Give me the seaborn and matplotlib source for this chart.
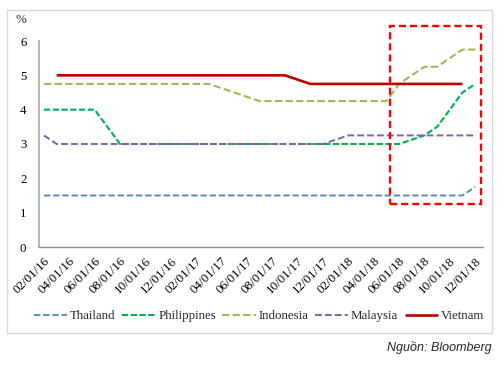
import numpy as np
import pandas as pd
import matplotlib
matplotlib.use("Agg")
import matplotlib.pyplot as plt
from matplotlib.patches import Rectangle
from matplotlib.transforms import ScaledTranslation
import seaborn as sns

# ---------------- data ----------------
tick_labels = ["02/01/16", "04/01/16", "06/01/16", "08/01/16", "10/01/16", "12/01/16",
               "02/01/17", "04/01/17", "06/01/17", "08/01/17", "10/01/17", "12/01/17",
               "02/01/18", "04/01/18", "06/01/18", "08/01/18", "10/01/18", "12/01/18"]
# monthly points from Feb 2016 (index 0) to Dec 2018 (index 34)
months = list(range(35))

thailand = [1.5, 1.5, 1.5, 1.5, 1.5, 1.5, 1.5, 1.5, 1.5, 1.5,
            1.5, 1.5, 1.5, 1.5, 1.5, 1.5, 1.5, 1.5, 1.5, 1.5,
            1.5, 1.5, 1.5, 1.5, 1.5, 1.5, 1.5, 1.5, 1.5, 1.5,
            1.5, 1.5, 1.5, 1.5, 1.75]
philippines = [4.0, 4.0, 4.0, 4.0, 4.0, 3.5, 3.0, 3.0, 3.0, 3.0,
               3.0, 3.0, 3.0, 3.0, 3.0, 3.0, 3.0, 3.0, 3.0, 3.0,
               3.0, 3.0, 3.0, 3.0, 3.0, 3.0, 3.0, 3.0, 3.0, 3.125,
               3.25, 3.5, 4.0, 4.5, 4.75]
indonesia = [4.75, 4.75, 4.75, 4.75, 4.75, 4.75, 4.75, 4.75, 4.75, 4.75,
             4.75, 4.75, 4.75, 4.75, 4.625, 4.5, 4.375, 4.25, 4.25, 4.25,
             4.25, 4.25, 4.25, 4.25, 4.25, 4.25, 4.25, 4.25, 4.75, 5.0,
             5.25, 5.25, 5.5, 5.75, 5.75]
malaysia = [3.25, 3.0, 3.0, 3.0, 3.0, 3.0, 3.0, 3.0, 3.0, 3.0,
            3.0, 3.0, 3.0, 3.0, 3.0, 3.0, 3.0, 3.0, 3.0, 3.0,
            3.0, 3.0, 3.0, 3.125, 3.25, 3.25, 3.25, 3.25, 3.25, 3.25,
            3.25, 3.25, 3.25, 3.25, 3.25]
vietnam = [np.nan, 5.0, 5.0, 5.0, 5.0, 5.0, 5.0, 5.0, 5.0, 5.0,
           5.0, 5.0, 5.0, 5.0, 5.0, 5.0, 5.0, 5.0, 5.0, 5.0,
           4.875, 4.75, 4.75, 4.75, 4.75, 4.75, 4.75, 4.75, 4.75, 4.75,
           4.75, 4.75, 4.75, 4.75, np.nan]

series_names = ["Thailand", "Philippines", "Indonesia", "Malaysia", "Vietnam"]
series_values = [thailand, philippines, indonesia, malaysia, vietnam]

# ---------------- styles ----------------
colors = {"Thailand": "#4f81bd", "Philippines": "#00b050", "Indonesia": "#9bbb59",
          "Malaysia": "#8064a2", "Vietnam": "#c00000"}
widths = {"Thailand": 1.3, "Philippines": 1.5, "Indonesia": 1.5, "Malaysia": 1.4, "Vietnam": 1.9}
dash_patterns = {"Thailand": (3.5, 1.6), "Philippines": (3.0, 1.2), "Indonesia": (3.5, 1.6),
                 "Malaysia": (3.5, 1.6), "Vietnam": None}

sns.set_theme(style="white")
serif = ["Liberation Serif", "DejaVu Serif"]
plt.rcParams["font.family"] = serif

fig = plt.figure(figsize=(5.03, 3.67), dpi=100)
W, H = 503, 367
ax = fig.add_axes([39 / W, 1 - 247 / H, (483 - 39) / W, (247 - 41) / H])

frames = []
for name, vals in zip(series_names, series_values):
    frames.append(pd.DataFrame({"month": months, "rate": vals, "country": name}))
df = pd.concat(frames, ignore_index=True)

for name in series_names:
    sub = df[df["country"] == name].dropna()
    sns.lineplot(data=sub, x="month", y="rate", ax=ax, color=colors[name],
                 lw=widths[name], label=name, legend=False)
    line = ax.lines[-1]
    if dash_patterns[name] is not None:
        line.set_dashes(dash_patterns[name])
    line.set_solid_capstyle("butt")

ax.set_xlim(-0.39, 34.62)
ax.set_ylim(0, 6)
ax.set_xticks(months[::2])
ax.set_xticklabels(tick_labels, rotation=45, ha="right", va="center",
                   rotation_mode="anchor", fontsize=9.3, color="#000000")
ax.tick_params(axis="x", length=0, pad=9)
ax.set_yticks(range(7))
ax.set_yticklabels([str(v) for v in range(7)], fontsize=9.3, color="#000000")
ax.tick_params(axis="y", length=0, pad=9)
ax.set_xlabel("")
ax.set_ylabel("")
ax.grid(False)
for s in ["top", "right"]:
    ax.spines[s].set_visible(False)
ax.spines["left"].set_color("#b4b4b4")
ax.spines["left"].set_linewidth(1.4)
ax.spines["bottom"].set_color("#8c8c8c")
ax.spines["bottom"].set_linewidth(1.0)

# shift x tick labels slightly right to match reference
for lab in ax.get_xticklabels():
    lab.set_transform(lab.get_transform() + ScaledTranslation(4 / 100, 0, fig.dpi_scale_trans))

# highlight box (annotation)
box = Rectangle((27.3, 1.245), 34.5 - 27.3, 6.45 - 1.245, fill=False,
                edgecolor="#ff0000", lw=1.7, linestyle=(0, (3.0, 1.7)),
                clip_on=False, zorder=5)
ax.add_patch(box)

# "%" label
fig.text(15 / W, 1 - 20 / H, "%", fontsize=9.3, ha="left", va="center")

# legend
handles, labels = ax.get_legend_handles_labels()
fig.legend(handles, labels, loc="center", bbox_to_anchor=(259 / W, 1 - 316 / H),
           ncol=5, frameon=False, fontsize=9.3, handlelength=2.6,
           handletextpad=0.2, columnspacing=0.5, borderaxespad=0)

# outer border
fig.add_artist(Rectangle((7 / W, 1 - 333 / H), (492 - 7) / W, (333 - 10) / H,
                         transform=fig.transFigure, fill=False,
                         edgecolor="#d9d9d9", lw=1.0))

# source
fig.text(492 / W, 1 - 348 / H, "Nguồn: Bloomberg", fontsize=9, ha="right", va="center",
         style="italic", family=["Liberation Sans", "DejaVu Sans"])

fig.savefig("out.png", dpi=100)
